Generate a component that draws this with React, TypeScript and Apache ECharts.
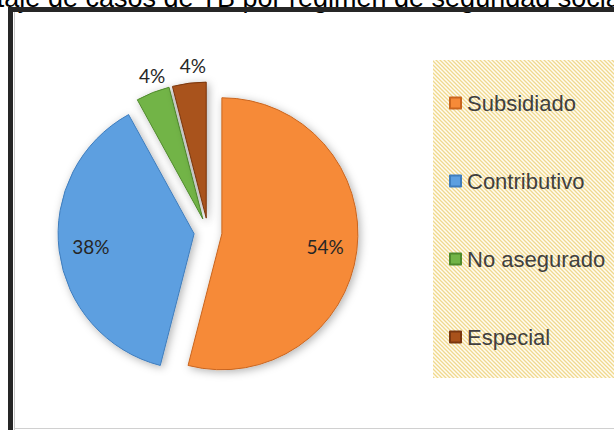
import React, { useEffect, useRef } from "react";
import * as echarts from "echarts";

const titleText = "Porcentaje de casos de TB por régimen de seguridad social";
const categories = ["Subsidiado", "Contributivo", "No asegurado", "Especial"];
const values = [54, 38, 4, 4];
const colors = ["#F68A38", "#5D9FE0", "#72B447", "#A9521B"];
const borders = ["#C9651F", "#3F7DBD", "#4F8A2C", "#7A3710"];
const insideLabel = [true, true, false, false];

function makePattern(): HTMLCanvasElement {
  const c = document.createElement("canvas");
  c.width = 4;
  c.height = 4;
  const ctx = c.getContext("2d")!;
  ctx.fillStyle = "#FFFCF3";
  ctx.fillRect(0, 0, 4, 4);
  ctx.strokeStyle = "#F0D98E";
  ctx.lineWidth = 1.3;
  ctx.beginPath();
  ctx.moveTo(-1, -1);
  ctx.lineTo(5, 5);
  ctx.moveTo(-1, 3);
  ctx.lineTo(1, 5);
  ctx.moveTo(3, -1);
  ctx.lineTo(5, 1);
  ctx.stroke();
  return c;
}

export default function App() {
  const ref = useRef<HTMLDivElement>(null);
  useEffect(() => {
    document.body.style.margin = "0";
    const chart = echarts.init(ref.current!, null, { renderer: "svg" });
    const pattern = makePattern();
    const mainData = categories.map((name, i) => ({
      name,
      value: values[i],
      selected: true,
      itemStyle: { color: colors[i], borderColor: borders[i] },
      label: { show: !insideLabel[i] },
    }));
    const labelData = categories.map((name, i) => ({
      name,
      value: values[i],
      selected: true,
      itemStyle: { color: "rgba(0,0,0,0)" },
      label: { show: insideLabel[i] },
    }));
    chart.setOption({
      animation: false,
      title: {
        text: titleText,
        left: 264,
        textAlign: "center",
        top: -21,
        textStyle: {
          fontFamily: "Liberation Sans",
          fontSize: 27,
          fontWeight: "normal",
          color: "#000",
        },
      },
      graphic: [
        {
          type: "rect",
          z: 0,
          shape: { x: 433, y: 60, width: 200, height: 318 },
          style: { fill: { image: pattern, repeat: "repeat" } as any },
        },
        {
          type: "line",
          z: 0,
          shape: { x1: 14, y1: 428.5, x2: 614, y2: 428.5 },
          style: { stroke: "#D0D0D0", lineWidth: 1 },
        },
        {
          type: "line",
          z: 0,
          shape: { x1: 14.5, y1: 12, x2: 14.5, y2: 430 },
          style: { stroke: "#C8C8C8", lineWidth: 1 },
        },
        {
          type: "rect",
          z: 10,
          shape: { x: 10.5, y: 9.5, width: 800, height: 600 },
          style: { fill: "none", stroke: "#262626", lineWidth: 5 },
        },
      ],
      legend: {
        orient: "vertical",
        left: 444,
        top: 87,
        itemGap: 56,
        itemWidth: 11,
        itemHeight: 11,
        icon: "rect",
        data: categories,
        selectedMode: false,
        textStyle: {
          fontFamily: "Liberation Sans",
          fontSize: 22,
          color: "#404040",
          padding: [0, 0, 0, 1],
        },
      },
      series: [
        {
          type: "pie",
          center: [208, 232],
          radius: [0, 136],
          startAngle: 90,
          clockwise: true,
          selectedMode: "multiple",
          selectedOffset: 14,
          avoidLabelOverlap: false,
          emphasis: { disabled: true },
          itemStyle: {
            borderWidth: 1,
            shadowBlur: 8,
            shadowColor: "rgba(0,0,0,0.3)",
            shadowOffsetX: 2,
            shadowOffsetY: 2,
          },
          label: {
            position: "outside",
            formatter: "{c}%",
            fontFamily: "Lato",
            fontSize: 19,
            color: "#262626",
            distanceToLabelLine: -19,
          },
          labelLine: { show: false, length: 18, length2: 0 },
          data: mainData,
        },
        {
          type: "pie",
          center: [208, 232],
          radius: [0, 202],
          startAngle: 90,
          clockwise: true,
          silent: true,
          selectedMode: "multiple",
          selectedOffset: 14,
          avoidLabelOverlap: false,
          emphasis: { disabled: true },
          label: {
            position: "inside",
            formatter: "{c}%",
            fontFamily: "Lato",
            fontSize: 19,
            color: "#262626",
          },
          labelLine: { show: false },
          data: labelData,
        },
      ],
    });
    return () => chart.dispose();
  }, []);
  return <div ref={ref} style={{ width: 614, height: 430 }} />;
}
